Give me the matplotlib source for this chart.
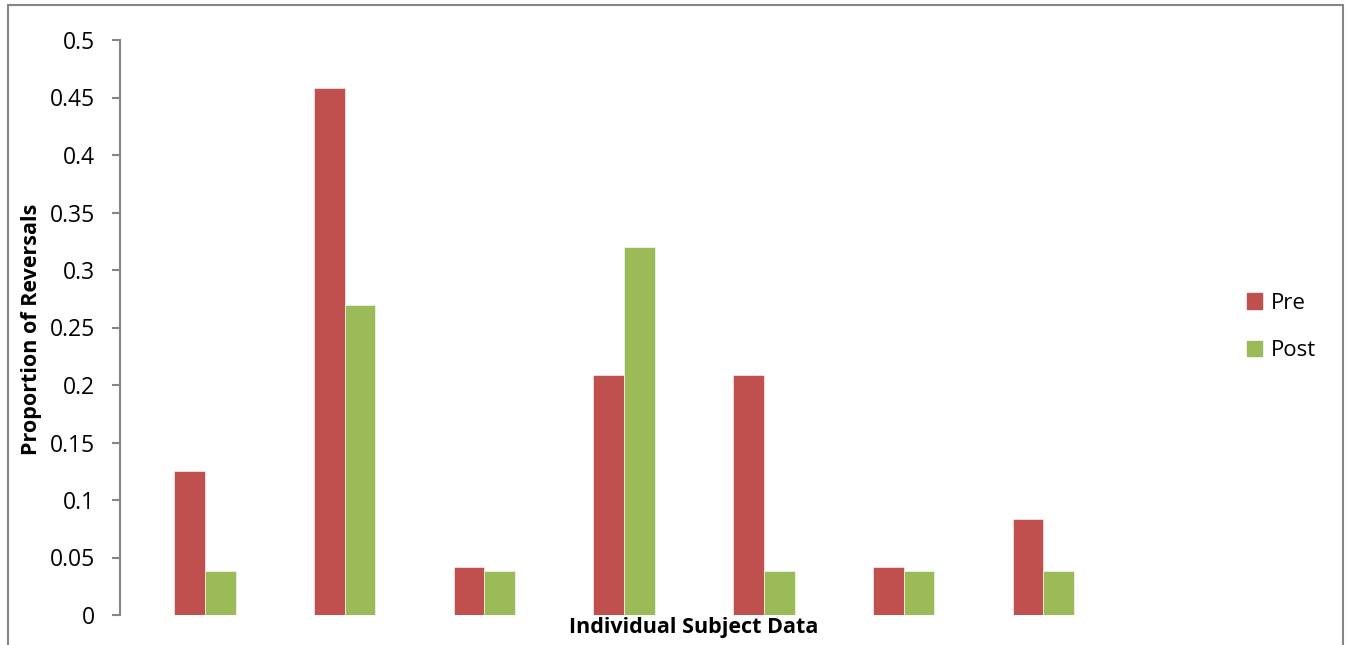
import matplotlib
matplotlib.use("Agg")
import matplotlib.pyplot as plt
from matplotlib.patches import Rectangle, Patch
import numpy as np

plt.rcParams['font.family'] = ['Open Sans', 'DejaVu Sans']

# data
subjects = [1, 2, 3, 4, 5, 6, 7]
pre = [0.125, 0.458, 0.0417, 0.2083, 0.2083, 0.0417, 0.0833]
post = [0.0385, 0.2692, 0.0385, 0.32, 0.0385, 0.0385, 0.0385]
yticks = [0, 0.05, 0.1, 0.15, 0.2, 0.25, 0.3, 0.35, 0.4, 0.45, 0.5]
ytick_labels = ['0', '0.05', '0.1', '0.15', '0.2', '0.25', '0.3', '0.35', '0.4', '0.45', '0.5']

pre_col = '#C0504D'
post_col = '#9BBB59'
grey = '#868686'

W, H = 1346, 645
fig = plt.figure(figsize=(W / 100, H / 100), dpi=100)

# plot area in pixels: x 120..1190, y 40..615
ax = fig.add_axes([120 / W, 1 - 615 / H, 1070 / W, 575 / H])

x = np.arange(len(subjects))
bw = 0.22
ax.bar(x - bw / 2, pre, width=bw, color=pre_col, edgecolor='white', linewidth=0.4)
ax.bar(x + bw / 2, post, width=bw, color=post_col, edgecolor='white', linewidth=0.4)

ax.set_xlim(-0.608, 7.05)
ax.set_ylim(0, 0.5)
ax.set_yticks(yticks)
ax.set_yticklabels(ytick_labels, fontsize=16.5)
ax.set_xticks([])

for s in ['top', 'right', 'bottom']:
    ax.spines[s].set_visible(False)
ax.spines['left'].set_color(grey)
ax.spines['left'].set_linewidth(1.5)
ax.tick_params(axis='y', direction='out', length=6, width=1.5, color=grey, pad=12)

ax.set_xlabel('Individual Subject Data', fontsize=15.5, fontweight='bold')
ax.xaxis.set_label_coords(0.536, -0.003)
fig.text(32 / W, 1 - 329 / H, 'Proportion of Reversals', rotation=90,
         ha='center', va='center', fontsize=15.5, fontweight='bold')

handles = [Patch(color=pre_col, label='Pre'), Patch(color=post_col, label='Post')]
fig.legend(handles=handles, loc='center left', bbox_to_anchor=(1236 / W, 1 - 327 / H),
           frameon=False, fontsize=16, handlelength=0.68, handleheight=0.68,
           handletextpad=0.4, labelspacing=1.2, borderpad=0)

# outer chart border
fig.patches.append(Rectangle((8 / W, -0.05), 1335 / W, 1.05 - 5 / H,
                             transform=fig.transFigure, fill=False,
                             edgecolor=grey, linewidth=1.5))

fig.savefig('out.png', dpi=100)
